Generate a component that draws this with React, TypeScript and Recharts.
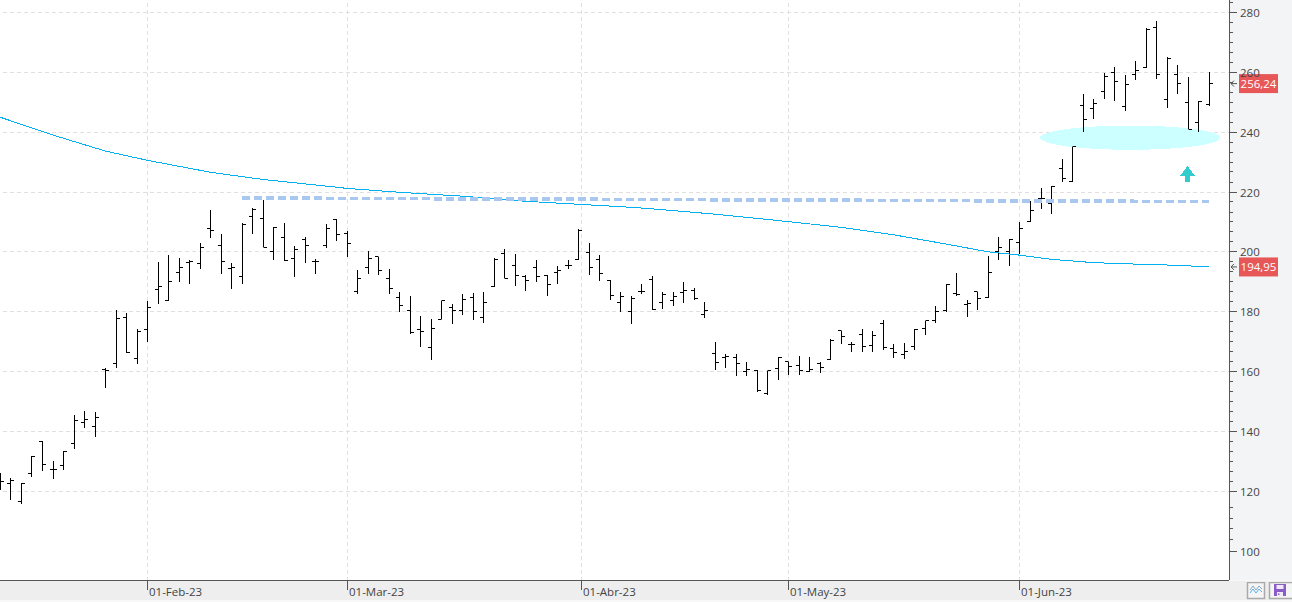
import React from "react";
import {
  ComposedChart,
  Bar,
  Line,
  XAxis,
  YAxis,
  CartesianGrid,
  ReferenceLine,
  ReferenceArea,
  ReferenceDot,
} from "recharts";

// one entry per session
const highs = [126.0,124.3,122.7,131.7,136.7,130.0,133.4,145.3,146.7,146.3,161.3,180.7,179.7,174.3,183.7,196.7,199.0,198.0,197.3,203.0,214.0,206.0,196.3,209.7,214.7,217.3,208.3,209.7,202.0,205.0,197.7,209.3,211.0,207.0,193.8,200.4,198.4,194.1,186.5,185.1,178.4,177.4,183.6,182.4,185.8,186.1,186.5,197.8,200.8,199.4,192.4,197.4,192.4,195.4,197.4,207.6,202.8,198.8,190.5,186.5,185.1,189.1,191.8,186.5,186.5,189.8,187.8,183.4,169.7,166.0,165.7,163.3,160.6,160.3,164.9,163.3,165.3,165.0,163.2,170.7,173.7,169.7,174.3,173.7,177.3,169.3,169.5,174.2,177.0,182.0,189.2,193.0,184.0,186.6,198.7,204.8,204.3,210.0,217.0,221.3,221.9,231.0,235.2,252.7,251.0,259.7,261.7,259.0,263.7,274.7,277.0,265.0,262.3,258.3,250.3,260.0];
const lows = [120.4,117.1,115.6,124.9,126.9,124.2,127.2,134.2,141.1,138.2,154.4,161.2,166.3,162.6,169.9,182.5,183.7,189.9,189.2,194.2,204.5,192.5,187.6,189.2,205.9,201.5,197.2,196.9,191.5,196.2,192.5,201.2,203.5,198.2,186.0,192.7,192.3,186.0,180.0,172.4,168.3,164.0,177.4,176.0,178.8,177.3,176.3,188.4,191.1,188.7,187.0,190.0,185.3,189.3,194.4,197.4,192.1,190.4,183.8,179.8,176.0,185.8,180.4,181.0,182.0,182.8,183.8,177.8,160.6,161.2,158.5,158.5,153.3,152.3,157.2,159.0,158.9,159.9,159.5,163.7,169.2,166.5,166.5,166.5,167.3,164.5,164.2,167.2,172.2,176.2,180.0,185.2,178.2,180.5,184.7,197.4,195.2,199.3,210.1,214.4,212.5,223.2,223.2,240.0,244.5,251.2,250.5,247.2,257.3,261.3,257.9,248.2,252.9,241.0,240.0,248.9];
const opens = [124.0,122.7,116.7,126.0,136.7,127.3,128.7,136.0,143.0,141.7,160.7,162.7,178.0,164.3,174.0,187.3,183.9,193.0,196.3,196.0,207.7,202.0,194.3,191.7,211.7,211.0,200.0,204.7,197.7,204.0,196.7,202.0,210.7,206.0,186.7,194.8,198.4,191.1,184.8,180.4,174.1,168.1,177.4,181.4,180.4,184.8,178.1,188.4,199.4,195.4,191.8,194.8,192.1,193.1,195.4,197.4,199.8,197.4,190.4,183.1,180.1,186.8,190.8,183.1,183.8,186.5,187.1,179.1,166.0,164.7,164.7,160.0,160.3,152.5,161.0,163.3,162.0,160.0,162.7,163.9,173.7,169.0,172.5,168.7,176.0,167.7,165.7,168.3,174.3,177.0,180.5,186.0,182.3,186.6,184.7,200.2,200.0,203.0,210.1,217.7,216.3,228.0,223.5,249.0,248.0,253.7,260.0,248.7,259.3,261.6,275.0,251.0,259.3,250.0,243.3,249.3];
const closes = [123.3,123.7,122.7,131.7,129.0,127.3,133.4,143.7,144.0,144.7,160.3,177.7,166.5,173.3,181.3,188.3,190.0,194.7,196.7,201.3,207.0,196.7,194.7,209.1,214.0,201.5,208.3,197.2,200.7,202.0,196.7,207.7,205.7,202.7,191.1,197.8,193.8,187.8,182.1,173.1,173.4,174.4,183.6,180.4,184.1,180.1,183.1,197.5,191.1,192.1,190.4,191.8,189.1,193.8,195.4,207.3,194.8,192.8,185.4,185.1,184.4,186.8,180.6,185.8,185.1,187.1,184.4,180.4,163.0,165.0,162.7,160.7,153.5,160.3,164.7,161.7,160.3,160.7,161.3,170.2,171.7,169.0,168.3,172.0,167.9,166.3,166.7,174.0,177.0,180.0,189.2,185.7,182.7,184.3,193.0,201.3,204.1,207.7,213.9,217.9,221.7,224.5,235.2,244.3,249.7,258.7,257.0,256.0,260.7,274.3,259.3,264.7,256.3,241.0,250.3,256.24];

// moving average, read at these sessions
const maSessions = [0,5,10,14,20,25,32,33,38,44,50,55,60,63,68,75,80,85,90,94,97,100,104,108,112,115];
const maValues = [245.0,239.05,233.7,230.6,226.6,224.2,221.6,221.2,219.9,218.6,216.9,215.9,214.9,214.1,212.6,210.1,208.2,205.7,202.6,200.0,198.9,197.5,196.4,195.9,195.5,194.95];

const xTicks = [14, 33, 55.3, 75, 97];
const xTickLabels = ["01-Feb-23", "01-Mar-23", "01-Abr-23", "01-May-23", "01-Jun-23"];
const yMajor = [100, 120, 140, 160, 180, 200, 220, 240, 260, 280];
const yGrid = [120, 140, 160, 180, 200, 220, 240, 260, 280];
const yMinor = [103.7,107.4,111,114.7,123.3,126.7,130,133.3,136.7,143.3,146.7,150,153.3,156.7,163.3,166.7,170,173.3,176.7,183.3,186.7,190,193.3,196.7,203.3,206.7,210,213.3,216.7,223.3,226.7,230,233.3,236.7,243.3,246.7,250,253.3,256.7,263.3,266.7,270,273.3,276.7,283.3];
const priceTags = [256.24, 194.95];

const rows = highs.map((high, i) => {
  const m = maSessions.indexOf(i);
  return {
    idx: i,
    range: [lows[i], high],
    high,
    open: opens[i],
    close: closes[i],
    ma: m >= 0 ? maValues[m] : null,
  };
});

const FONT = "'Open Sans', sans-serif";
const FONT_SIZE = 11.5;
const X_MIN = -0.02;
const X_MAX = 116.91;

const OhlcShape = (props: any) => {
  const { x, y, width, height, payload } = props;
  const cx = Math.floor(x + width / 2) + 0.5;
  const top = Math.round(y);
  const bottom = Math.round(y + height);
  const span = payload.range[1] - payload.range[0];
  const at = (v: number) =>
    Math.floor(y + ((payload.high - v) / span) * height) + 0.5;
  return (
    <g stroke="#000" strokeWidth={1} fill="none">
      <line x1={cx} x2={cx} y1={top} y2={bottom} />
      <line x1={cx - 3.5} x2={cx} y1={at(payload.open)} y2={at(payload.open)} />
      <line x1={cx} x2={cx + 3.5} y1={at(payload.close)} y2={at(payload.close)} />
    </g>
  );
};

const BottomTick = (props: any) => {
  const { x, payload } = props;
  const px = Math.floor(x) + 0.5;
  const i = xTicks.indexOf(payload.value);
  return (
    <g>
      <line x1={px} x2={px} y1={580} y2={590} stroke="#555" />
      <text x={px + 1.5} y={596} fontSize={FONT_SIZE} fontFamily={FONT} fill="#444">
        {xTickLabels[i]}
      </text>
    </g>
  );
};

const RightTick = (props: any) => {
  const { y, payload } = props;
  const major = yMajor.includes(payload.value);
  const py = Math.floor(y) + 0.5;
  return (
    <g>
      <line x1={1229} x2={major ? 1237 : 1233} y1={py} y2={py} stroke="#555" />
      {major && (
        <text x={1240} y={y + 4.5} fontSize={FONT_SIZE} fontFamily={FONT} fill="#444">
          {payload.value}
        </text>
      )}
    </g>
  );
};

const PriceTag = (props: any) => {
  const { cx, cy, value } = props;
  return (
    <g>
      <path
        d={`M${cx + 5} ${cy - 3} L${cx + 2} ${cy} L${cx + 5} ${cy + 3} M${cx + 2} ${cy} L${cx + 8} ${cy}`}
        stroke="#555"
        fill="none"
      />
      <rect x={cx + 10} y={cy - 9.5} width={39} height={19} fill="#e85757" />
      <text
        x={cx + 29.5}
        y={cy + 4.5}
        textAnchor="middle"
        fontSize={FONT_SIZE}
        fontFamily={FONT}
        fill="#fff"
      >
        {value}
      </text>
    </g>
  );
};

const EllipseShape = (props: any) => {
  const { x, y, width, height } = props;
  return (
    <ellipse
      cx={x + width / 2}
      cy={y + height / 2}
      rx={width / 2}
      ry={height / 2}
      fill="#ccffff"
      shapeRendering="crispEdges"
    />
  );
};

const ArrowShape = (props: any) => {
  const { cx, cy } = props;
  return (
    <polygon
      points={`${cx},${cy - 8} ${cx + 7.5},${cy + 2} ${cx + 2.5},${cy + 2} ${cx + 2.5},${cy + 8} ${cx - 2.5},${cy + 8} ${cx - 2.5},${cy + 2} ${cx - 7.5},${cy + 2}`}
      fill="#33cccc"
      shapeRendering="crispEdges"
    />
  );
};

const App: React.FC = () => {
  return (
    <div
      style={{
        position: "absolute",
        left: 0,
        top: 0,
        width: 1292,
        height: 602,
        overflow: "hidden",
        background: "#f8f8f8",
      }}
    >
      <div style={{ position: "absolute", left: 0, top: 581, width: 1292, height: 19, background: "#eeeeee" }} />
      <div style={{ position: "absolute", left: 1230, top: 0, width: 62, height: 580, background: "#f3f4f6" }} />
      <ComposedChart
        width={1292}
        height={602}
        data={rows}
        margin={{ top: 0, right: 0, bottom: 0, left: 0 }}
        style={{ position: "absolute", left: 0, top: 0 }}
      >
        <CartesianGrid
          fill="#ffffff"
          stroke="#e0e0e0"
          strokeDasharray="4 3"
          strokeDashoffset={4}
          shapeRendering="crispEdges"
          horizontalValues={yGrid}
          verticalValues={xTicks}
        />
        <XAxis
          dataKey="idx"
          type="number"
          domain={[X_MIN, X_MAX]}
          ticks={xTicks}
          interval={0}
          height={22}
          axisLine={{ stroke: "#555" }}
          tickLine={false}
          tick={<BottomTick />}
          shapeRendering="crispEdges"
        />
        <YAxis
          orientation="right"
          type="number"
          domain={[90.31, 284.18]}
          ticks={[...yMajor, ...yMinor]}
          interval={0}
          width={63}
          axisLine={{ stroke: "#555" }}
          tickLine={false}
          tick={<RightTick />}
          shapeRendering="crispEdges"
        />
        <Bar
          dataKey="range"
          barSize={1}
          isAnimationActive={false}
          shape={<OhlcShape />}
        />
        <Line
          dataKey="ma"
          connectNulls
          stroke="#00b0f0"
          strokeWidth={1}
          shapeRendering="crispEdges"
          dot={false}
          activeDot={false}
          isAnimationActive={false}
        />
        <ReferenceLine
          segment={[
            { x: 23, y: 218 },
            { x: 115, y: 216.8 },
          ]}
          stroke="#a8c8f0"
          strokeWidth={3.6}
          strokeDasharray="8 4"
          shapeRendering="crispEdges"
        />
        <ReferenceArea
          x1={98.93}
          x2={116.1}
          y1={234.1}
          y2={242.2}
          shape={<EllipseShape />}
        />
        <ReferenceDot x={112.97} y={226} shape={<ArrowShape />} />
        {priceTags.map((v) => (
          <ReferenceDot
            key={v}
            x={X_MAX}
            y={v}
            ifOverflow="visible"
            shape={(p: any) => <PriceTag {...p} value={String(v).replace(".", ",")} />}
          />
        ))}
      </ComposedChart>
      <svg
        width={46}
        height={18}
        style={{ position: "absolute", left: 1246, top: 582 }}
      >
        <rect x={1.5} y={0.5} width={17} height={16} fill="#f5f5f5" stroke="#aaa" strokeWidth={1.5} />
        <path d="M4 8 L7 4 L10 8 L13 4 L16 7" fill="none" stroke="#8ab" />
        <path d="M4 11 L7 7 L10 11 L13 7 L16 10" fill="none" stroke="#5ab0e8" />
        <rect x={23.5} y={0.5} width={24} height={16} fill="#f5f5f5" stroke="#aaa" strokeWidth={1.5} />
        <rect x={28} y={2} width={12} height={12} fill="#8a5cc8" />
        <rect x={30.5} y={3} width={7} height={4} fill="#f0eaf8" />
        <rect x={31} y={10} width={6} height={4} fill="#f0eaf8" />
        <rect x={32} y={11.5} width={1.5} height={1.5} fill="#8a5cc8" />
      </svg>
    </div>
  );
};

export default App;
